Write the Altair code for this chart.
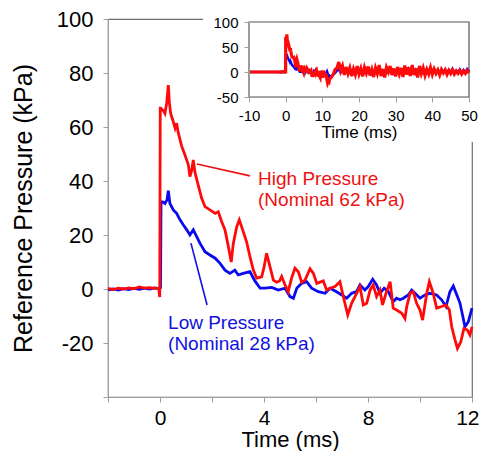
import altair as alt
import pandas as pd

FONT = "Liberation Sans"

# ---------------- main chart data (time in ms, pressure in kPa) ----------------
red_t = [-2.0, -1.8, -1.6, -1.4, -1.2, -1.0, -0.8, -0.6, -0.4, -0.2, -0.05, -0.01, 0.01,
         0.03, 0.13, 0.19, 0.26, 0.32, 0.36, 0.41, 0.49, 0.58, 0.64, 0.70, 0.83, 0.96,
         1.09, 1.15, 1.22, 1.28, 1.35, 1.47, 1.60, 1.73, 1.92, 2.12, 2.24, 2.37, 2.50,
         2.63, 2.74, 2.82, 2.95, 3.05, 3.18, 3.33, 3.46, 3.59, 3.72, 3.91, 4.00, 4.10,
         4.23, 4.36, 4.49, 4.60, 4.68, 4.81, 4.93, 5.06, 5.19, 5.32, 5.45, 5.58, 5.77,
         5.90, 6.03, 6.28, 6.41, 6.54, 6.73, 6.92, 7.05, 7.22, 7.37, 7.50, 7.69, 7.82,
         7.95, 8.08, 8.20, 8.33, 8.46, 8.56, 8.69, 8.85, 8.97, 9.10, 9.30, 9.42, 9.49,
         9.62, 9.74, 9.87, 10.00, 10.10, 10.26, 10.36, 10.51, 10.64, 10.83, 11.00,
         11.13, 11.22, 11.35, 11.44, 11.57, 11.69, 11.82, 11.92, 12.00]
red_v = [0.2, -0.2, 0.3, 0.0, 0.4, 0.1, 0.8, 0.3, 0.5, 0.2, 0.3, -3.0, 67.0,
         67.0, 66.0, 65.0, 69.0, 75.5, 69.0, 65.0, 62.6, 59.6, 61.4, 58.0, 53.0, 49.6,
         46.0, 41.6, 44.0, 47.8, 43.0, 38.5, 33.7, 30.5, 29.3, 28.0, 28.6, 25.0, 21.9,
         15.7, 10.0, 16.9, 23.0, 25.6, 21.9, 17.5, 12.0, 7.0, 4.0, 4.5, 8.0, 13.2,
         8.3, 3.3, 2.5, 3.0, 4.6, 1.5, -1.0, 4.0, 7.7, 6.4, 2.5, 3.3, 7.5,
         5.8, 2.1, 3.0, -0.4, 0.3, 0.9, 2.7, -2.8, -9.6, -5.3, -2.8, 0.9, -5.9,
         -5.3, -0.4, 1.5, -2.8, -0.4, -5.9, -1.6, 2.7, -7.1, -7.8, -9.0, -10.9, -6.5,
         -1.6, -1.0, -5.3, -7.8, -11.5, -1.6, 2.7, -1.6, -7.1, -6.5, -5.9,
         -7.8, -14.0, -18.9, -22.0, -19.5, -14.6, -15.2, -17.0, -14.0]

blue_t = [-2.0, -1.8, -1.6, -1.4, -1.2, -1.0, -0.8, -0.6, -0.4, -0.2, -0.05, 0.02, 0.04,
          0.10, 0.19, 0.27, 0.32, 0.38, 0.51, 0.64, 0.77, 0.90, 1.03, 1.15, 1.28, 1.41,
          1.54, 1.73, 1.92, 2.12, 2.31, 2.50, 2.69, 2.88, 3.01, 3.20, 3.46, 3.65, 3.85,
          4.04, 4.30, 4.55, 4.81, 5.00, 5.13, 5.26, 5.45, 5.64, 5.83, 6.09, 6.35, 6.54,
          6.79, 6.99, 7.18, 7.37, 7.56, 7.69, 7.88, 8.01, 8.18, 8.33, 8.46, 8.62, 8.78,
          8.97, 9.10, 9.23, 9.36, 9.55, 9.68, 9.81, 10.00, 10.19, 10.38, 10.64, 10.83,
          11.00, 11.15, 11.28, 11.44, 11.54, 11.73, 11.86, 12.00]
blue_v = [-0.3, 0.0, -0.4, 0.1, -0.2, 0.2, -0.1, 0.3, 0.0, 0.4, 0.2, 0.5, 32.3,
          32.3, 31.7, 33.0, 36.4, 31.7, 29.3, 28.0, 25.6, 23.7, 21.9, 20.0, 21.9, 19.4,
          16.9, 13.8, 12.6, 11.4, 9.5, 7.0, 5.8, 7.0, 5.2, 5.8, 6.4, 3.0, 0.3,
          0.3, 0.6, -0.4, 0.3, -2.8, -3.4, 0.3, 2.1, 2.7, 0.3, -1.0, -1.6, 0.3,
          -1.0, -2.2, -3.4, -1.6, -1.0, 1.5, -0.4, 0.9, 3.6, 1.5, -1.6, 0.3, -1.0,
          -4.7, -3.4, -4.0, -3.4, -2.2, -0.4, -1.6, -3.4, -2.2, -1.6, -2.2, -4.0,
          -6.5, -1.0, 1.1, -2.8, -5.3, -14.0, -12.1, -7.1]

# ---------------- inset: continuation of the records to 50 ms ----------------
inset_pre_t = [-10.0, -2.0]
inset_pre_v = [0.0, 0.0]
red_tail = [-10, -4, 5, 8, 20, 2, 12, -6, 10, -3,
            8, -8, 6, -5, 12, -4, 7, -9, 9, -2,
            11, -7, 5, -10, 8, -3, 14, -8, 6, -11,
            9, 0, 12, -6, 7, -9, 10, -4, 8, -10,
            13, -5, 9, -8, 14, -6, 7, -11, 12, -3,
            8, -7, 5, -4, 9, -5, 6, -3, 4, -6,
            5, -2, 4, -5, 3, -3, 4, -4, 2, -3,
            3, -4, 2, -3, 3, -2]
blue_tail = [-9, -5, -2, 3, 5, -1, 4, -2, 3, -3,
             2, -4, 3, -1, 4, -3, 2, -2, 5, -3,
             1, -4, 3, -2, 4, -1, 2, -3, 3, -2,
             4, -1, 2, -3, 3, -1, 5, -2, 3, -4,
             4, -1, 6, -3, 2, -2, 5, 0, 3, -4,
             4, -2, 6, -1, 3, -3, 5, 0, 4, -2,
             3, -1, 5, -3, 4, 0, 6, -2, 3, -1,
             5, -2, 4, -1, 6, 1]
tail_t = [12.5 + 0.5 * i for i in range(len(red_tail))]

# ---------------- annotations ----------------
label_text = ["High Pressure\n(Nominal 62 kPa)", "Low Pressure\n(Nominal 28 kPa)"]
label_t = [3.77, 0.31]
label_v = [38.5, -14.8]
label_color = ["#ee1111", "#1111dd"]
leader_t = [1.42, 1.19]
leader_v = [46.3, 17.0]
leader_t2 = [3.46, 1.81]
leader_v2 = [41.9, -5.9]

main_xdomain = [-2, 12]
main_ydomain = [-40, 100]
inset_xdomain = [-10, 50]
inset_ydomain = [-50, 100]

RED = "#ff0a0a"
BLUE = "#0a0aee"

# ---------------- frames ----------------
def frame(ts, vs):
    return pd.DataFrame({"t": ts, "v": vs, "i": range(len(ts))})

red_df = frame(red_t, red_v)
blue_df = frame(blue_t, blue_v)
inset_red = frame(inset_pre_t + red_t[2:] + tail_t, inset_pre_v + red_v[2:] + red_tail)
inset_blue = frame(inset_pre_t + blue_t[2:] + tail_t, inset_pre_v + blue_v[2:] + blue_tail)
labels_df = pd.DataFrame({"t": label_t, "v": label_v, "text": label_text, "c": label_color})
leader_df = pd.DataFrame({"t": leader_t, "v": leader_v, "t2": leader_t2, "v2": leader_v2,
                          "c": label_color})
inset_frame_df = pd.DataFrame({"t": [inset_xdomain[0]], "t2": [inset_xdomain[1]],
                               "v": [inset_ydomain[0]], "v2": [inset_ydomain[1]]})

AX = "#a0a0a0"
PLAIN = "'' + datum.value"

# ---------------- main panel ----------------
mx_axis = alt.Axis(values=[-2, 0, 2, 4, 6, 8, 10, 12],
                   labelExpr="datum.value % 4 == 0 ? " + PLAIN + " : ''",
                   title="Time (ms)", grid=False, domainColor=AX, tickColor=AX, tickSize=5,
                   labelFontSize=21, titleFontSize=22, labelFont=FONT, titleFont=FONT,
                   titleFontWeight="normal", labelColor="black", titleColor="black",
                   labelPadding=5, titlePadding=1, labelFlush=True, labelFlushOffset=7,
                   labelOverlap=False)
my_axis = alt.Axis(values=[-40, -20, 0, 20, 40, 60, 80, 100],
                   labelExpr="datum.value == -40 ? '' : " + PLAIN,
                   title="Reference Pressure (kPa)", grid=False, domainColor=AX, tickColor=AX,
                   tickSize=5, labelFontSize=22, titleFontSize=25, labelFont=FONT,
                   titleFont=FONT, titleFontWeight="normal", labelColor="black",
                   titleColor="black", labelPadding=10, titlePadding=20, labelOverlap=False)
mxs = alt.Scale(domain=main_xdomain, nice=False, zero=False)
mys = alt.Scale(domain=main_ydomain, nice=False, zero=False)
MX = alt.X("t:Q", scale=mxs, axis=mx_axis)
MY = alt.Y("v:Q", scale=mys, axis=my_axis)

m_blue = alt.Chart(blue_df).mark_line(color=BLUE, strokeWidth=2.8).encode(x=MX, y=MY, order="i:Q")
m_red = alt.Chart(red_df).mark_line(color=RED, strokeWidth=2.8).encode(x=MX, y=MY, order="i:Q")
m_lead = alt.Chart(leader_df).mark_rule(strokeWidth=1.6).encode(
    x=MX, y=MY, x2="t2:Q", y2="v2:Q", color=alt.Color("c:N", scale=None))
m_text = alt.Chart(labels_df).mark_text(
    align="left", baseline="alphabetic", fontSize=19, font=FONT, lineBreak="\n", lineHeight=21
).encode(x=MX, y=MY, text="text:N", color=alt.Color("c:N", scale=None))
main = alt.layer(m_blue, m_red, m_lead, m_text)

# ---------------- inset panel ----------------
IX0, IX1, IY0, IY1 = 141, 361, 78, 3
ix_axis = alt.Axis(values=[-10, 0, 10, 20, 30, 40, 50], title="Time (ms)", grid=False,
                   labelExpr=PLAIN,
                   orient="bottom", offset=-(378 - IY0), zindex=1, domainColor=AX,
                   tickColor=AX, tickSize=5, labelFontSize=15, titleFontSize=17,
                   labelFont=FONT, titleFont=FONT, titleFontWeight="normal",
                   labelColor="black", titleColor="black", labelPadding=6, titlePadding=1,
                   labelFlush=False, labelOverlap=False)
iy_axis = alt.Axis(values=[-50, 0, 50, 100], title=None, grid=False, orient="left",
                   labelExpr=PLAIN,
                   offset=-IX0, zindex=1, domainColor=AX, tickColor=AX, tickSize=5,
                   labelFontSize=15, labelFont=FONT, labelColor="black", labelPadding=6,
                   labelOverlap=False)
ixs = alt.Scale(domain=inset_xdomain, range=[IX0, IX1], nice=False, zero=False)
iys = alt.Scale(domain=inset_ydomain, range=[IY0, IY1], nice=False, zero=False)
IXc = alt.X("t:Q", scale=ixs, axis=ix_axis)
IYc = alt.Y("v:Q", scale=iys, axis=iy_axis)

i_bg = alt.Chart(inset_frame_df).mark_rect(fill="white", stroke=None).encode(
    x=alt.value(95), x2=alt.value(390), y=alt.value(-12), y2=alt.value(123))
i_frame = alt.Chart(inset_frame_df).mark_rect(fillOpacity=0, stroke="#555555", strokeWidth=1.2).encode(
    x=IXc, x2="t2:Q", y=IYc, y2="v2:Q")
i_blue = alt.Chart(inset_blue).mark_line(color=BLUE, strokeWidth=2.5).encode(x=IXc, y=IYc, order="i:Q")
i_red = alt.Chart(inset_red).mark_line(color=RED, strokeWidth=3.2).encode(x=IXc, y=IYc, order="i:Q")
inset = alt.layer(i_bg, i_frame, i_blue, i_red)

chart = alt.layer(main, inset).resolve_scale(x="independent", y="independent").properties(
    width=364, height=378,
    padding={"left": 100, "top": 11, "right": 8, "bottom": 54},
    autosize=alt.AutoSizeParams(type="none"),
    background="white",
).configure_view(stroke="#707070", strokeWidth=1.2)

chart.save("out.html", embed_options={"renderer": "svg", "actions": False})
